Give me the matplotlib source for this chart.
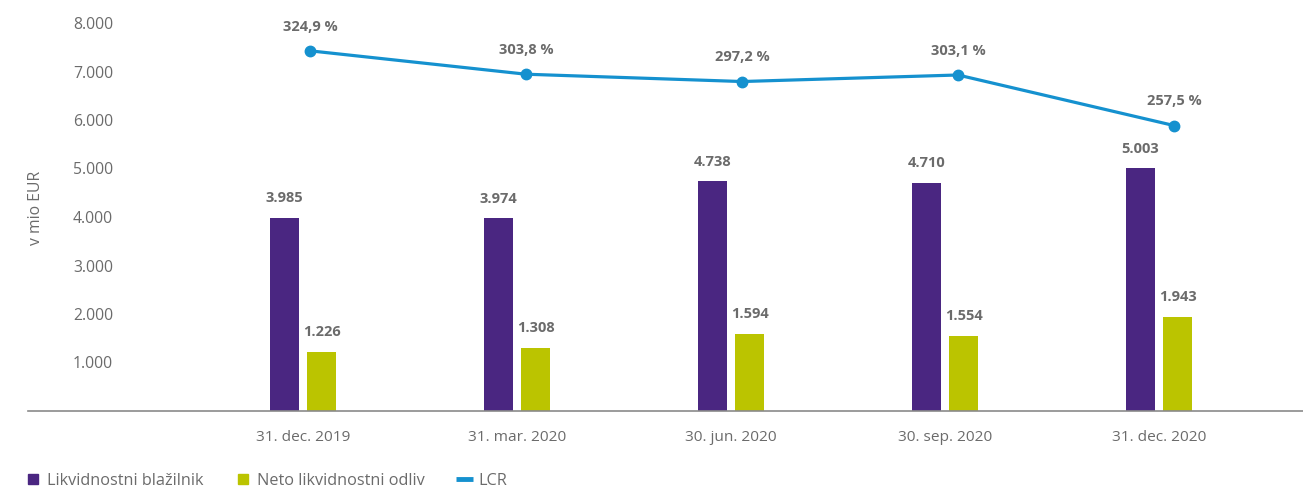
import matplotlib
matplotlib.use("Agg")
import matplotlib.pyplot as plt
from matplotlib.lines import Line2D
import numpy as np

plt.rcParams['font.family'] = ['Open Sans', 'DejaVu Sans']

categories = ['31. dec. 2019', '31. mar. 2020', '30. jun. 2020', '30. sep. 2020', '31. dec. 2020']
buffer_vals = [3985, 3974, 4738, 4710, 5003]
outflow_vals = [1226, 1308, 1594, 1554, 1943]
lcr_vals = [324.9, 303.8, 297.2, 303.1, 257.5]
yticks = [1000, 2000, 3000, 4000, 5000, 6000, 7000, 8000]
series_names = ['Likvidnostni blažilnik', 'Neto likvidnostni odliv', 'LCR']

PURPLE = '#4a2681'
GREEN = '#bbc400'
BLUE = '#1591cf'
GRAY = '#6b6b6b'
AXIS = '#8a8a8a'

def fmt_int(v):
    return f"{v:,}".replace(',', '.')

def fmt_pct(v):
    return f"{v:.1f}".replace('.', ',') + ' %'

W, H = 1303, 491
fig = plt.figure(figsize=(W / 100, H / 100), dpi=100)
rect = [28 / W, (H - 411) / H, (W - 28) / W, 388 / H]
ax = fig.add_axes(rect)

x = np.arange(len(categories))
bw = 0.135
off = 0.087
b1 = ax.bar(x - off, buffer_vals, bw, color=PURPLE)
b2 = ax.bar(x + off, outflow_vals, bw, color=GREEN)
for bars, vals in ((b1, buffer_vals), (b2, outflow_vals)):
    for r, v in zip(bars, vals):
        ax.annotate(fmt_int(v), (r.get_x() + r.get_width() / 2, v),
                    xytext=(0, 11), textcoords='offset points',
                    ha='center', va='baseline', fontsize=10.5,
                    fontweight='bold', color=GRAY)

ax.set_xlim(-(303 - 28) / 214, (W - 303) / 214)
ax.set_ylim(0, 8000)
ax.set_yticks(yticks)
ax.set_yticklabels([fmt_int(t) for t in yticks])
ax.set_xticks(x)
ax.set_xticklabels(categories)
ax.tick_params(axis='y', length=0, pad=-85 * 0.72, labelsize=11.3, labelcolor=GRAY)
ax.tick_params(axis='x', length=0, pad=14, labelsize=11.1, labelcolor=GRAY)
for s in ('top', 'right', 'left'):
    ax.spines[s].set_visible(False)
ax.spines['bottom'].set_color(AXIS)
ax.spines['bottom'].set_linewidth(1.2)

ax2 = fig.add_axes(rect, frameon=False)
ax2.set_xlim(-(310 - 28) / 216, (W - 310) / 216)
ax2.set_ylim(0, 350)
ax2.plot(x, lcr_vals, color=BLUE, lw=2.3, marker='o', markersize=7.5)
for xi, v in zip(x, lcr_vals):
    ax2.annotate(fmt_pct(v), (xi, v), xytext=(0, 14.5), textcoords='offset points',
                 ha='center', va='baseline', fontsize=10.5, fontweight='bold', color=GRAY)
ax2.set_xticks([])
ax2.set_yticks([])

fig.text(36 / W, 1 - 208 / H, 'v mio EUR', rotation=90, ha='center', va='center',
         fontsize=11.3, color=GRAY)

handles = [
    Line2D([], [], ls='none', marker='s', markersize=7, color=PURPLE),
    Line2D([], [], ls='none', marker='s', markersize=7, color=GREEN),
    Line2D([], [], color=BLUE, lw=3.5, solid_capstyle='butt'),
]
fig.legend(handles, series_names, loc='center left', bbox_to_anchor=(24 / W, 1 - 481 / H),
           ncol=3, frameon=False, fontsize=11.7, labelcolor=GRAY,
           handlelength=1.05, handletextpad=0.35, columnspacing=1.9, borderpad=0, borderaxespad=0)

fig.savefig('out.png', dpi=100)
